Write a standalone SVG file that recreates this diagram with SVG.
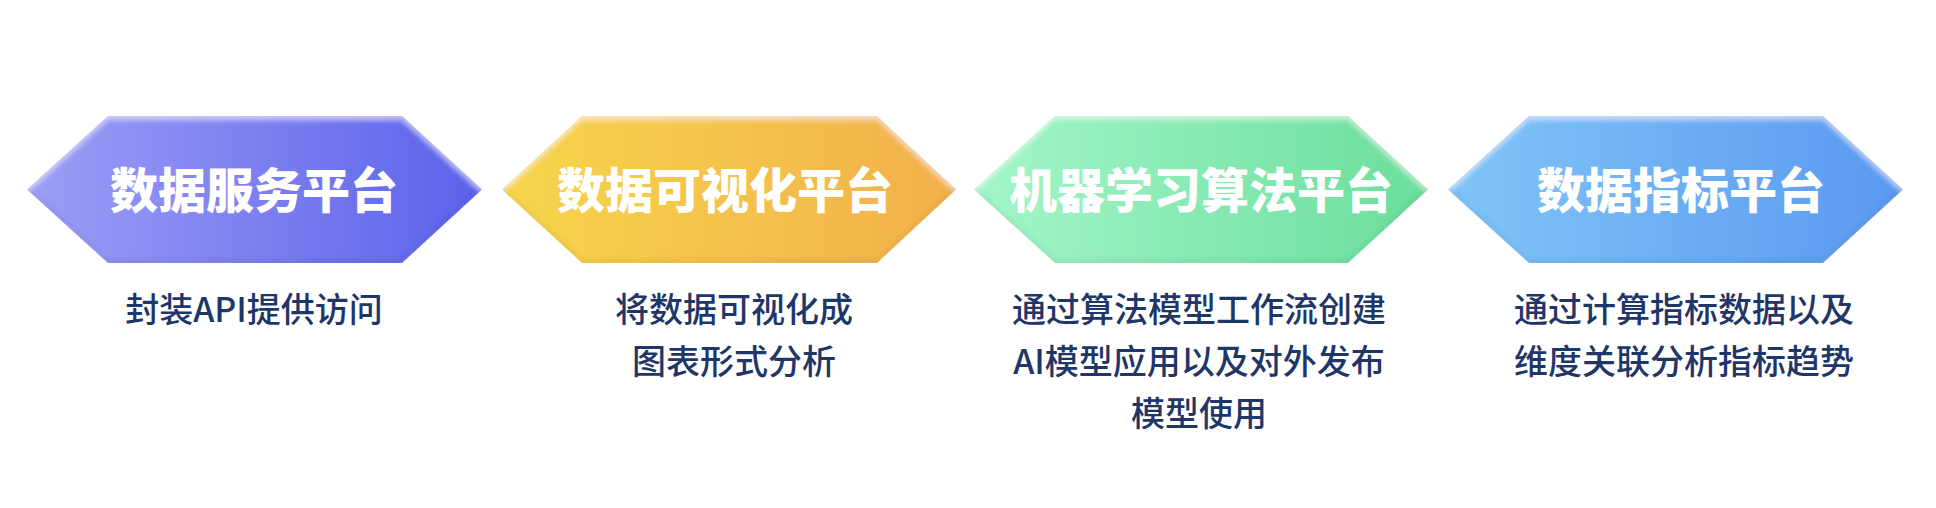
<svg xmlns="http://www.w3.org/2000/svg" width="1936" height="508" viewBox="0 0 1936 508">
  <defs>
    <linearGradient id="g1" x1="0" y1="0" x2="1" y2="0">
      <stop offset="0" stop-color="#9d9ef6"/>
      <stop offset="1" stop-color="#5b62ea"/>
    </linearGradient>
    <linearGradient id="g2" x1="0" y1="0" x2="1" y2="0">
      <stop offset="0" stop-color="#f7d54b"/>
      <stop offset="1" stop-color="#f2b04b"/>
    </linearGradient>
    <linearGradient id="g3" x1="0" y1="0" x2="1" y2="0">
      <stop offset="0" stop-color="#a3f6c9"/>
      <stop offset="1" stop-color="#6bde9c"/>
    </linearGradient>
    <linearGradient id="g4" x1="0" y1="0" x2="1" y2="0">
      <stop offset="0" stop-color="#80c5f8"/>
      <stop offset="1" stop-color="#5a99f0"/>
    </linearGradient>
    <filter id="bevel" x="-5%" y="-10%" width="110%" height="120%">
      <feGaussianBlur in="SourceAlpha" stdDeviation="2.5" result="b"/>
      <feOffset in="b" dy="4" result="down"/>
      <feComposite in="SourceAlpha" in2="down" operator="out" result="topEdge"/>
      <feFlood flood-color="#ffffff" flood-opacity="0.45"/>
      <feComposite in2="topEdge" operator="in" result="hi"/>
      <feOffset in="b" dy="-4" result="up"/>
      <feComposite in="SourceAlpha" in2="up" operator="out" result="botEdge"/>
      <feFlood flood-color="#000000" flood-opacity="0.12"/>
      <feComposite in2="botEdge" operator="in" result="sh"/>
      <feMerge>
        <feMergeNode in="SourceGraphic"/>
        <feMergeNode in="hi"/>
        <feMergeNode in="sh"/>
      </feMerge>
    </filter>
  </defs>
  <style>
    .title { font-family: "Noto Sans CJK SC", "Noto Sans", sans-serif; font-size: 48px; font-weight: 900; fill: #ffffff; text-anchor: middle; }
    .desc { font-family: "Noto Sans CJK SC", "Noto Sans", sans-serif; font-size: 34px; font-weight: 500; fill: #1f3768; text-anchor: middle; }
    .hex { filter: url(#bevel); }
  </style>
  <rect width="1936" height="508" fill="#ffffff"/>

  <g id="node-data-service">
    <polygon class="hex" points="27,189.5 108,116 402,116 482,189.5 402,263 108,263" fill="url(#g1)"/>
    <text class="title" x="254" y="208">数据服务平台</text>
    <text class="desc" x="254" y="322">封装API提供访问</text>
  </g>

  <g id="node-data-visual">
    <polygon class="hex" points="502,189.5 582,116 877,116 956,189.5 877,263 582,263" fill="url(#g2)"/>
    <text class="title" x="725" y="208">数据可视化平台</text>
    <text class="desc" x="734" y="322">将数据可视化成</text>
    <text class="desc" x="734" y="374">图表形式分析</text>
  </g>

  <g id="node-ml">
    <polygon class="hex" points="974,189.5 1055,116 1348,116 1428,189.5 1348,263 1055,263" fill="url(#g3)"/>
    <text class="title" x="1201" y="208">机器学习算法平台</text>
    <text class="desc" x="1199" y="322">通过算法模型工作流创建</text>
    <text class="desc" x="1199" y="374">AI模型应用以及对外发布</text>
    <text class="desc" x="1199" y="426">模型使用</text>
  </g>

  <g id="node-metrics">
    <polygon class="hex" points="1448,189.5 1529,116 1823,116 1903,189.5 1823,263 1529,263" fill="url(#g4)"/>
    <text class="title" x="1681" y="208">数据指标平台</text>
    <text class="desc" x="1684" y="322">通过计算指标数据以及</text>
    <text class="desc" x="1684" y="374">维度关联分析指标趋势</text>
  </g>

  <g id="connectors"></g>
</svg>
